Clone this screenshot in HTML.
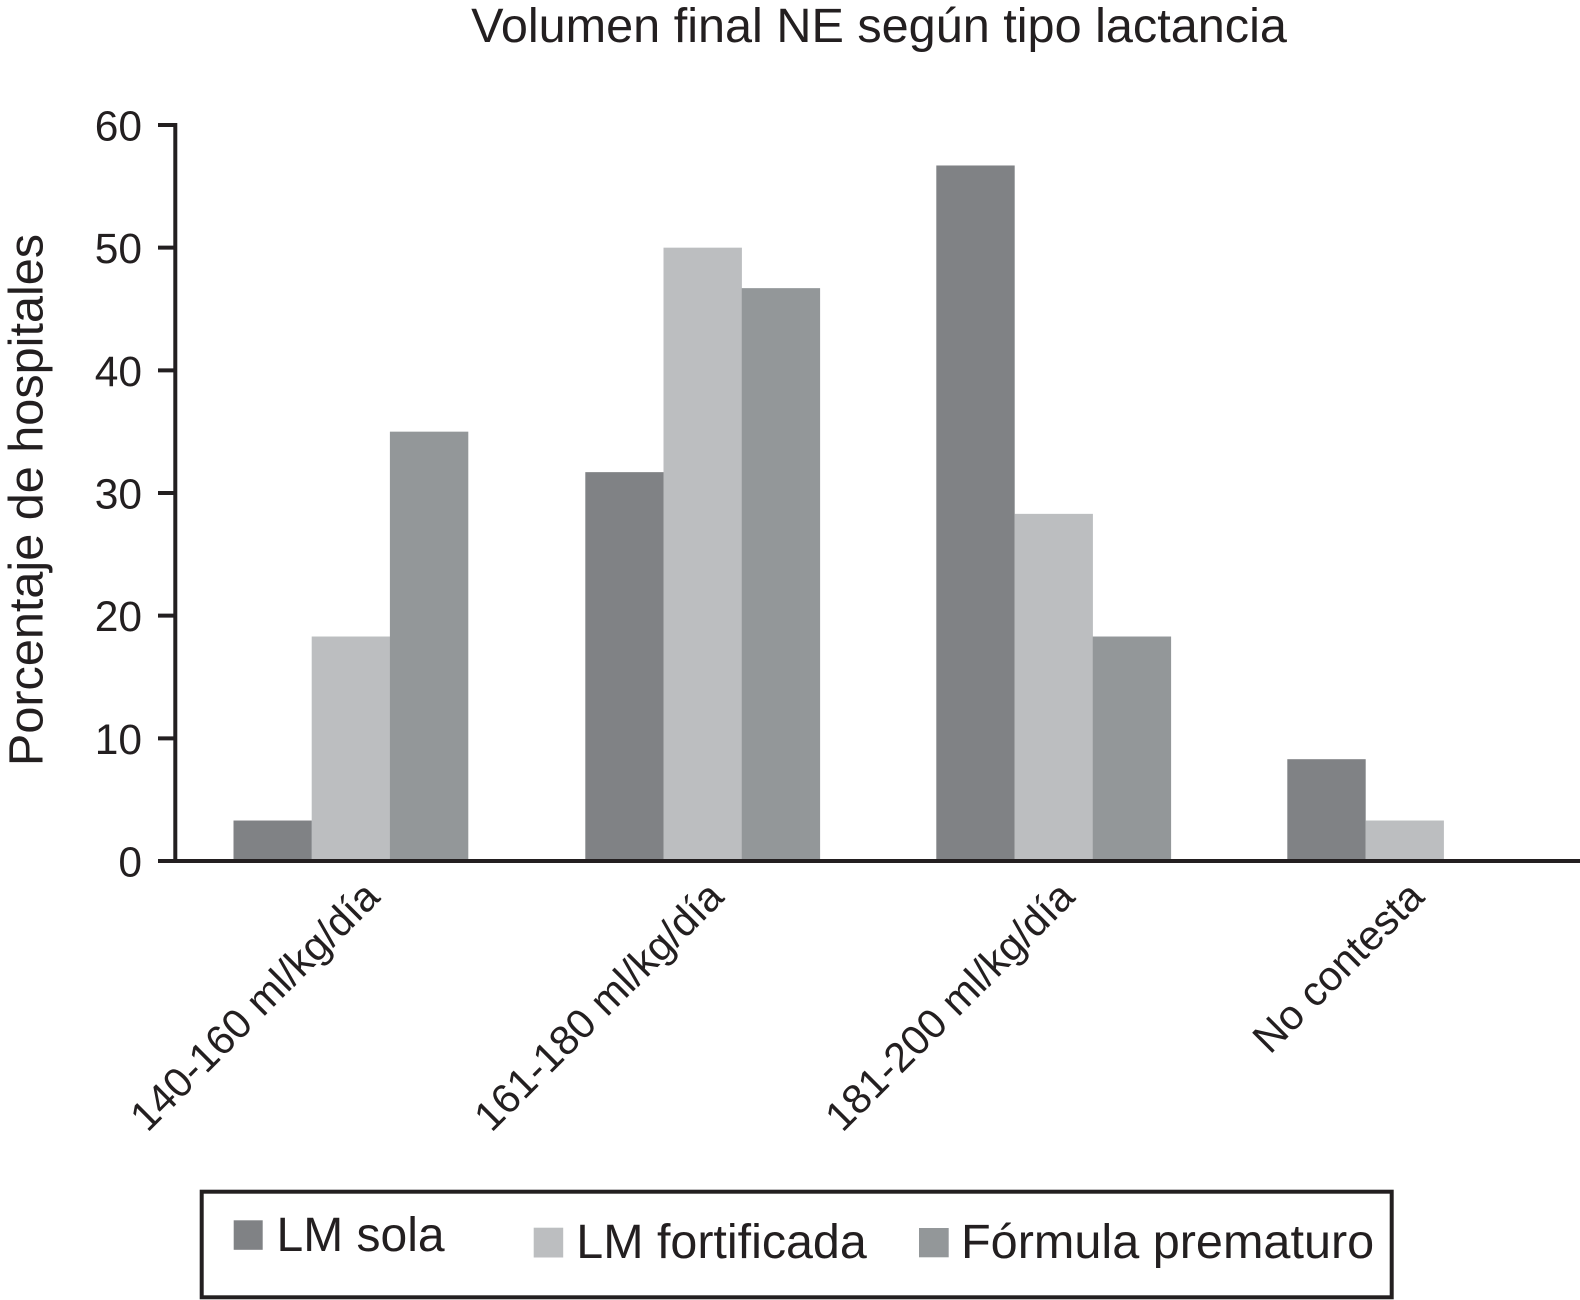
<!DOCTYPE html>
<html lang="es">
<head>
<meta charset="utf-8">
<title>Volumen final NE según tipo lactancia</title>
<style>
html,body{margin:0;padding:0;background:#fff;width:1580px;height:1300px;overflow:hidden}
svg{display:block}
text{font-family:"Liberation Sans",Arial,sans-serif;fill:#231f20}
</style>
</head>
<body>
<svg id="chart" xmlns="http://www.w3.org/2000/svg" width="1580" height="1300" viewBox="0 0 1580 1300">
  <text x="879" y="42" font-size="48.6" text-anchor="middle">Volumen final NE según tipo lactancia</text>
  <text transform="translate(42.5 500) rotate(-90)" font-size="48.6" text-anchor="middle">Porcentaje de hospitales</text>
  <g id="bars"></g>
  <g id="y-axis"></g>
  <g id="x-axis"></g>
  <g>
    <rect x="201.7" y="1191.7" width="1190" height="105.6" fill="none" stroke="#231f20" stroke-width="4"/>
    <rect x="233.7" y="1220.3" width="29" height="29.5" fill="#808285"/>
    <text x="276.5" y="1251" font-size="48">LM sola</text>
    <rect x="533.7" y="1227.7" width="29.5" height="29.8" fill="#bcbec0"/>
    <text x="576.3" y="1258" font-size="48.4">LM fortificada</text>
    <rect x="919" y="1228" width="29.7" height="29.3" fill="#939799"/>
    <text x="961" y="1258" font-size="48.6">Fórmula prematuro</text>
  </g>
</svg>
<script>
const categories = ['140-160 ml/kg/día', '161-180 ml/kg/día', '181-200 ml/kg/día', 'No contesta'];
const lmSola = [3.3, 31.7, 56.7, 8.3];
const lmFortificada = [18.3, 50, 28.3, 3.3];
const formulaPrematuro = [35, 46.7, 18.3, 0];
const yTicks = [0, 10, 20, 30, 40, 50, 60];

const NS = 'http://www.w3.org/2000/svg';
const y0 = 861, yTop = 125, yMax = 60;
const groupStart = 234.3, groupStep = 351, barW = 78.2;
const axisColor = '#231f20';
const seriesList = [
  { name: 'lm-sola', values: lmSola, color: '#808285' },
  { name: 'lm-fortificada', values: lmFortificada, color: '#bcbec0' },
  { name: 'formula-prematuro', values: formulaPrematuro, color: '#939799' }
];

function yScale(v) { return y0 - (v / yMax) * (y0 - yTop); }
function xGroup(i) { return groupStart + i * groupStep - (i === 0 ? 0.8 : 0); }
function make(tag, attrs, parent) {
  const el = document.createElementNS(NS, tag);
  for (const k in attrs) el.setAttribute(k, attrs[k]);
  parent.appendChild(el);
  return el;
}

const barsG = document.getElementById('bars');
seriesList.forEach(function (s, si) {
  s.values.forEach(function (v, ci) {
    if (v <= 0) return;
    const r = make('rect', {
      x: xGroup(ci) + si * barW,
      y: yScale(v),
      width: barW + 0.2,
      height: y0 - yScale(v),
      fill: s.color
    }, barsG);
    
    
  });
});

const yG = document.getElementById('y-axis');
const yLine = make('line', { x1: 175.3, x2: 175.3, y1: yTop - 2, y2: y0, stroke: axisColor, 'stroke-width': 4 }, yG);


yTicks.forEach(function (t) {
  const m = make('line', { x1: 158, x2: 175, y1: yScale(t), y2: yScale(t), stroke: axisColor, 'stroke-width': 4 }, yG);
  
  
  const lab = make('text', { x: 142, y: yScale(t) + 15.5, 'font-size': 42.5, 'text-anchor': 'end' }, yG);
  lab.textContent = String(t);
  
  
});

const xG = document.getElementById('x-axis');
const xLine = make('line', { x1: 158, x2: 1580, y1: y0, y2: y0, stroke: axisColor, 'stroke-width': 4 }, xG);


categories.forEach(function (c, i) {
  const cx = groupStart + i * groupStep + 1.5 * barW + (i === 0 ? 30 : i === 3 ? 21.5 : 23);
  const cy = 899;
  const lab = make('text', {
    transform: 'translate(' + cx + ' ' + cy + ') rotate(-45)',
    'font-size': 41.4,
    'text-anchor': 'end'
  }, xG);
  lab.textContent = c;
  
  
});
</script>
</body>
</html>
